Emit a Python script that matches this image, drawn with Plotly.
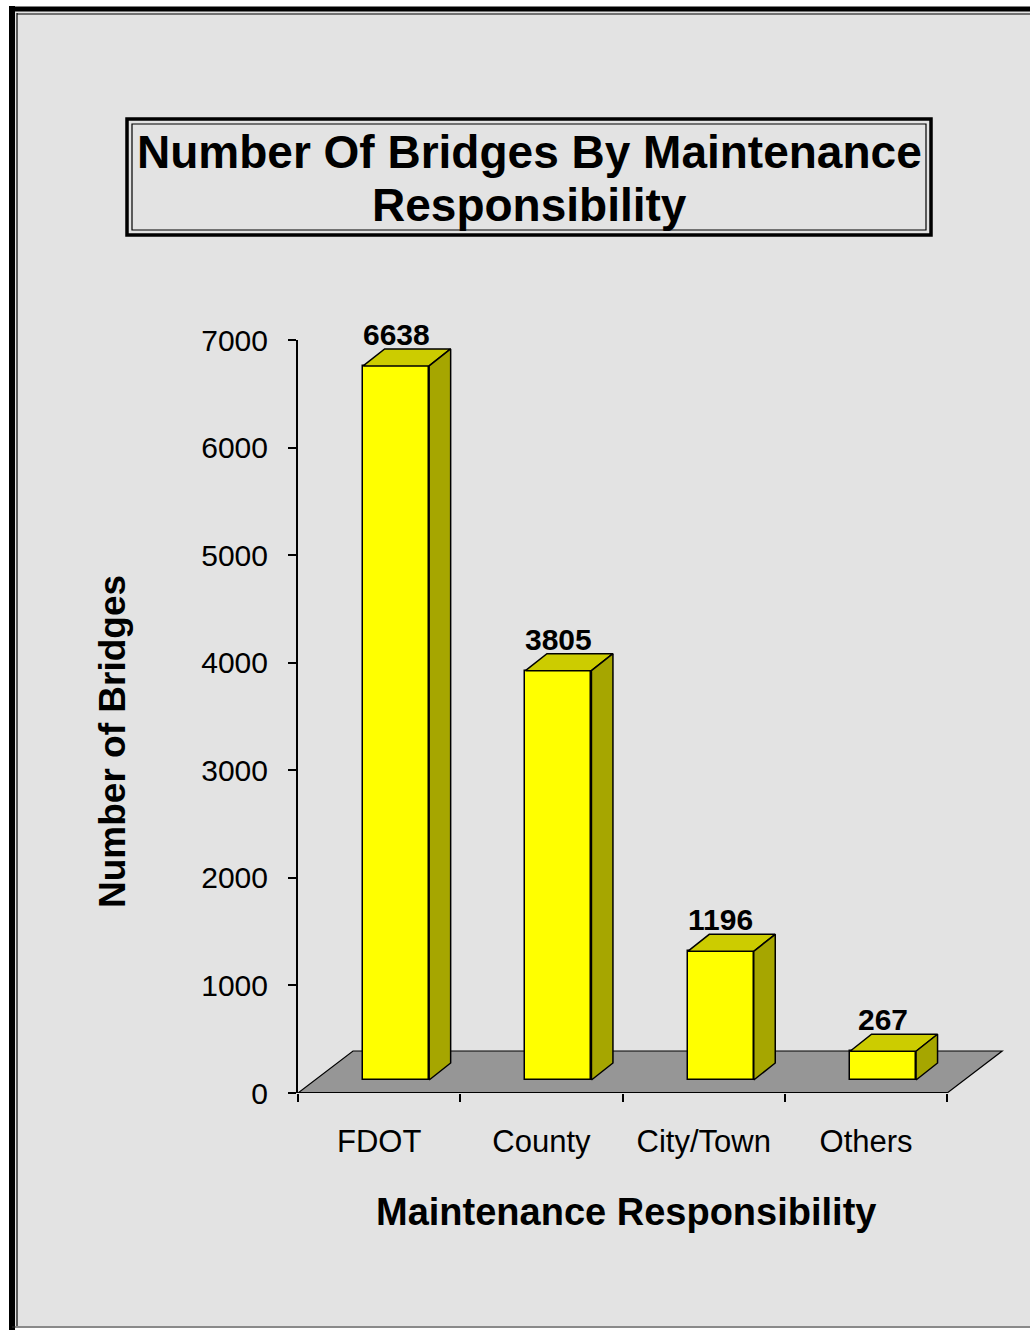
import plotly.graph_objects as go

# ---------------- data ----------------
categories = ["FDOT", "County", "City/Town", "Others"]
bridges = [6638, 3805, 1196, 267]
y_ticks = [0, 1000, 2000, 3000, 4000, 5000, 6000, 7000]
title_lines = ["Number Of Bridges By Maintenance", "Responsibility"]
x_title = "Maintenance Responsibility"
y_title = "Number of Bridges"

# ---------------- layout geometry ----------------
W, H = 1030, 1330
L, T = 298, 340
PW, PH = 706, 753
R, B = W - L - PW, H - T - PH
X_MAX = 4.35
Y_MAX = 7000
UX = PW / X_MAX          # px per x unit
UY = PH / Y_MAX          # px per y unit
FLOOR_DX, FLOOR_DY = 55 / UX, 42 / UY
OFF_X, OFF_Y = 17 / UX, 13 / UY
DEP_X, DEP_Y = 21.5 / UX, 17 / UY
BAR_W = 66 / UX

FONT = "Arial, Liberation Sans, sans-serif"
FRONT, TOP, SIDE = "#FFFF00", "#CCCC00", "#A6A600"


def px(xp):
    return (xp - L) / PW


def py(yp):
    return (T + PH - yp) / PH


fig = go.Figure()

# front faces of the bars
fig.add_trace(go.Bar(
    x=[i + 0.5 + OFF_X for i in range(len(categories))],
    y=bridges,
    base=[OFF_Y] * len(bridges),
    width=BAR_W,
    marker=dict(color=FRONT, line=dict(color="black", width=1.5)),
    hoverinfo="skip",
    showlegend=False,
))

# top and side faces
for i, v in enumerate(bridges):
    xc = i + 0.5 + OFF_X
    xl, xr = xc - BAR_W / 2, xc + BAR_W / 2
    top = v + OFF_Y
    fig.add_trace(go.Scatter(
        x=[xl, xl + DEP_X, xr + DEP_X, xr, xl],
        y=[top, top + DEP_Y, top + DEP_Y, top, top],
        fill="toself", fillcolor=TOP, mode="lines",
        line=dict(color="black", width=1.5),
        hoverinfo="skip", showlegend=False))
    fig.add_trace(go.Scatter(
        x=[xr, xr + DEP_X, xr + DEP_X, xr, xr],
        y=[OFF_Y, OFF_Y + DEP_Y, top + DEP_Y, top, OFF_Y],
        fill="toself", fillcolor=SIDE, mode="lines",
        line=dict(color="black", width=1.5),
        hoverinfo="skip", showlegend=False))
    fig.add_annotation(
        x=xc, y=top + DEP_Y, text=f"<b>{v}</b>", showarrow=False,
        yanchor="bottom", yshift=-4,
        font=dict(family=FONT, size=30, color="black"))

# invisible trace for boundary tick axis
fig.add_trace(go.Scatter(x=[0, 4], y=[0, 0], xaxis="x2", mode="markers",
                         marker=dict(opacity=0), hoverinfo="skip",
                         showlegend=False))

n = len(categories)
shapes = [
    # background panel
    dict(type="rect", xref="paper", yref="paper", layer="below",
         x0=px(12), x1=px(1040), y0=py(1328), y1=py(8),
         fillcolor="#e3e3e3", line=dict(width=0)),
    # outer frame (thick + thin)
    dict(type="line", xref="paper", yref="paper", x0=px(12), x1=px(12),
         y0=py(1330), y1=py(6), line=dict(color="black", width=6)),
    dict(type="line", xref="paper", yref="paper", x0=px(9), x1=px(1040),
         y0=py(9), y1=py(9), line=dict(color="black", width=5)),
    dict(type="line", xref="paper", yref="paper", x0=px(17), x1=px(17),
         y0=py(1326), y1=py(13), line=dict(color="black", width=1.2)),
    dict(type="line", xref="paper", yref="paper", x0=px(17), x1=px(1040),
         y0=py(14), y1=py(14), line=dict(color="black", width=1.2)),
    dict(type="line", xref="paper", yref="paper", x0=px(12), x1=px(1040),
         y0=py(1327), y1=py(1327), line=dict(color="#333333", width=1.2)),
    # title box double frame
    dict(type="rect", xref="paper", yref="paper",
         x0=px(127), x1=px(931), y0=py(235), y1=py(119),
         line=dict(color="black", width=3.5)),
    dict(type="rect", xref="paper", yref="paper",
         x0=px(132), x1=px(926), y0=py(230), y1=py(124),
         line=dict(color="black", width=1.2)),
    # floor
    dict(type="path", xref="x", yref="y", layer="below",
         path=f"M 0,0 L {n},0 L {n + FLOOR_DX},{FLOOR_DY} L {FLOOR_DX},{FLOOR_DY} Z",
         fillcolor="#969696", line=dict(color="black", width=1.2)),
    # x baseline
    dict(type="line", xref="x", yref="y", x0=0, x1=n, y0=0, y1=0,
         line=dict(color="black", width=2)),
]

# chart title (two lines)
for line_text, yc in zip(title_lines, [152, 205]):
    fig.add_annotation(
        xref="paper", yref="paper", x=px(529), y=py(yc),
        text=f"<b>{line_text}</b>", showarrow=False,
        xanchor="center", yanchor="middle",
        font=dict(family=FONT, size=46, color="black"))

fig.add_annotation(
    xref="paper", yref="paper", x=px(626), y=py(1212),
    text=f"<b>{x_title}</b>", showarrow=False, xanchor="center", yanchor="middle",
    font=dict(family=FONT, size=38, color="black"))
fig.add_annotation(
    xref="paper", yref="paper", x=px(112), y=py(742),
    text=f"<b>{y_title}</b>", showarrow=False, textangle=-90,
    xanchor="center", yanchor="middle",
    font=dict(family=FONT, size=37, color="black"))

fig.update_layout(
    width=W, height=H,
    margin=dict(l=L, r=R, t=T, b=B, pad=0),
    paper_bgcolor="white",
    plot_bgcolor="rgba(0,0,0,0)",
    showlegend=False,
    shapes=shapes,
    xaxis=dict(range=[0, X_MAX], showgrid=False, zeroline=False, showline=False,
               tickvals=[i + 0.5 for i in range(n)], ticktext=categories,
               ticks="", ticklabelstandoff=27,
               tickfont=dict(family=FONT, size=31, color="black")),
    xaxis2=dict(range=[0, X_MAX], overlaying="x", anchor="y", side="bottom",
                showgrid=False, zeroline=False, showline=False,
                tickvals=list(range(n + 1)), ticktext=[""] * (n + 1),
                ticks="outside", ticklen=8, tickwidth=1.5, tickcolor="black"),
    yaxis=dict(range=[0, Y_MAX], tickvals=y_ticks, showgrid=False, zeroline=False,
               showline=True, linecolor="black", linewidth=2,
               ticks="outside", ticklen=8, tickwidth=1.5, tickcolor="black",
               ticklabelstandoff=14,
               tickfont=dict(family=FONT, size=30, color="black")),
    bargap=0,
)

fig.write_html("out.html")
